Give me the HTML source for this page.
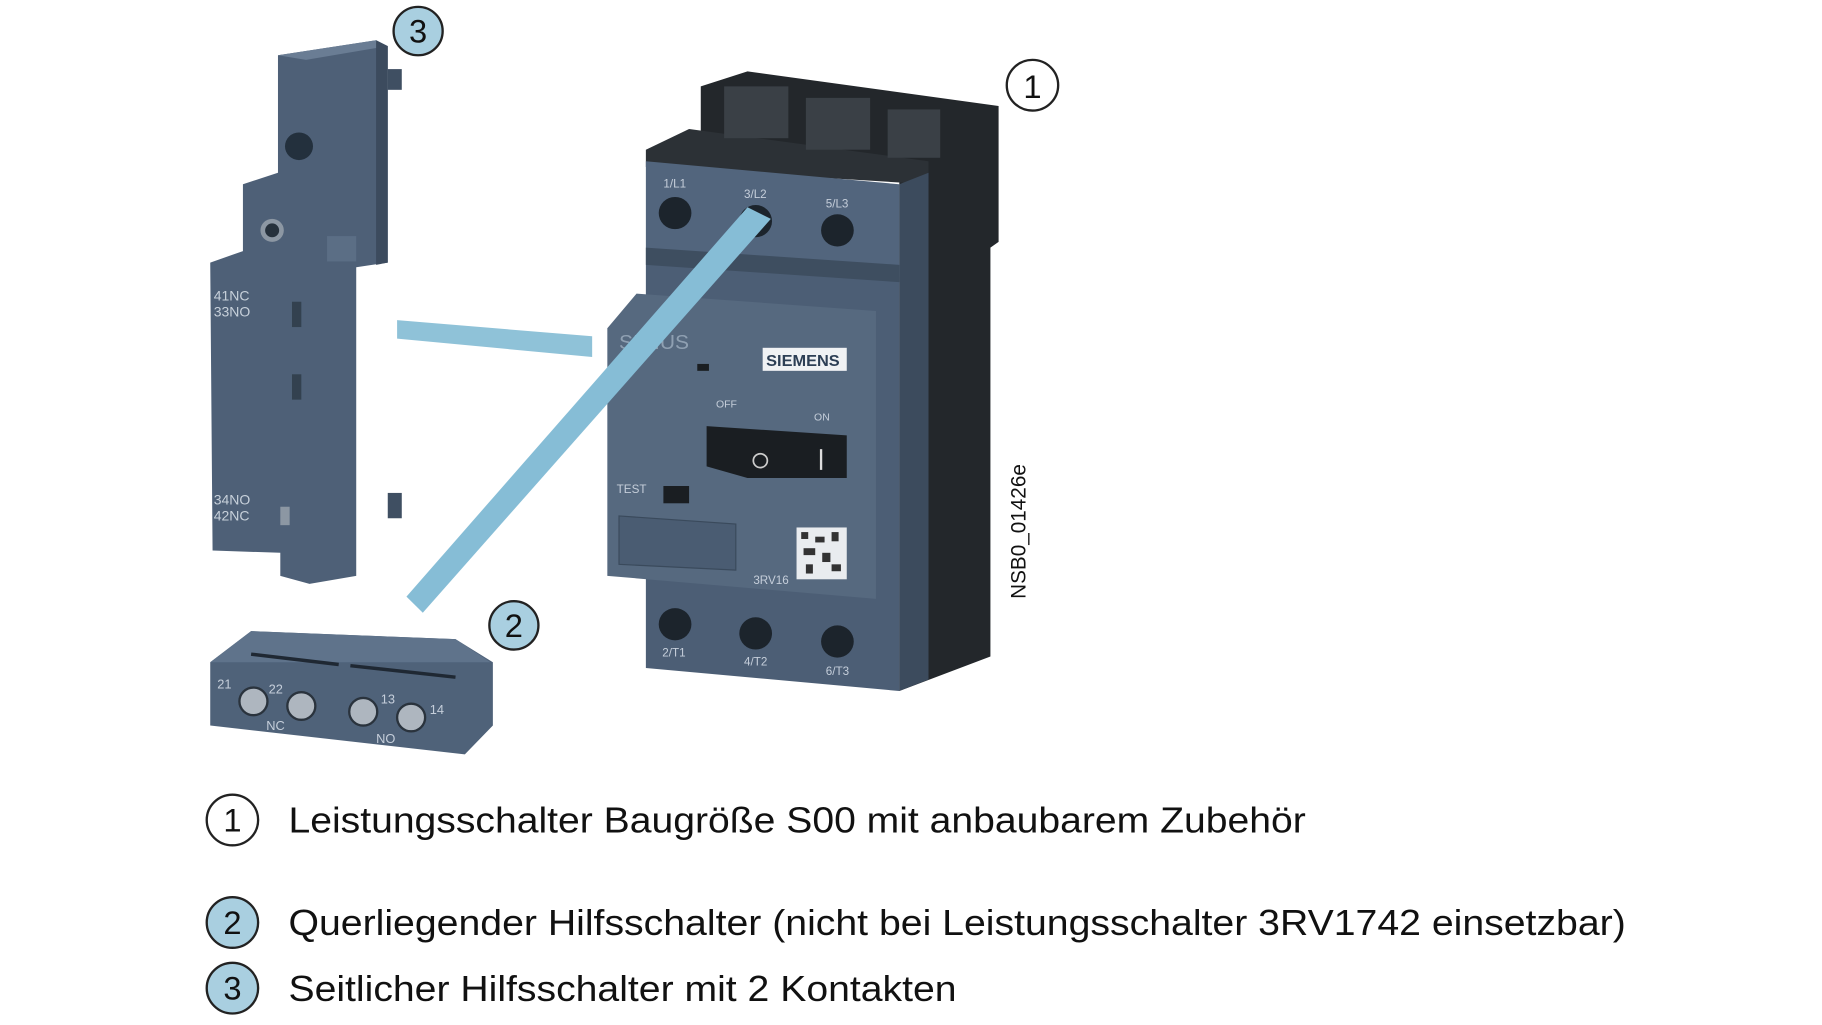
<!DOCTYPE html>
<html><head><meta charset="utf-8"><style>
html,body{margin:0;padding:0;background:#fff;}
svg{display:block;}
</style></head><body>
<svg width="1822" height="1025" viewBox="0 0 1560 890" preserveAspectRatio="none" xmlns="http://www.w3.org/2000/svg" font-family="Liberation Sans, sans-serif">
<!-- Side aux switch (3) -->
<g>
<polygon points="238,48 322,35 332,40 332,228 305,232 305,500 265,507 240,500 240,480 182,478 180,228 208,218 208,160 238,150" fill="#4e6077"/>
<polygon points="238,48 322,35 332,40 262,52" fill="#6a7d94"/>
<polygon points="322,35 332,40 332,228 322,230" fill="#3c4b5e"/>
<rect x="332" y="60" width="12" height="18" fill="#3f4f62"/>
<rect x="332" y="428" width="12" height="22" fill="#3f4f62"/>
<rect x="280" y="205" width="25" height="22" fill="#5b6e85"/>
<circle cx="256" cy="127" r="12" fill="#23303d"/>
<circle cx="233" cy="200" r="10" fill="#8c97a3"/>
<circle cx="233" cy="200" r="6" fill="#26313c"/>
<rect x="240" y="440" width="8" height="16" fill="#8c97a3"/>
<rect x="250" y="262" width="8" height="22" fill="#33414f"/>
<rect x="250" y="325" width="8" height="22" fill="#33414f"/>
<g fill="#c7d0da" font-size="12"><text x="183" y="261">41NC</text><text x="183" y="275">33NO</text><text x="183" y="438">34NO</text><text x="183" y="452">42NC</text></g>
</g>
<!-- light blue horizontal bar -->
<polygon points="340,278 507,292 507,310 340,294" fill="#8fc2d8"/>
<!-- Main breaker back -->
<polygon points="600,75 640,62 855,92 855,210 848,215 848,570 770,600 770,140 600,120" fill="#23272b"/>
<polygon points="553,130 590,112 795,140 795,160 553,145" fill="#2c3136"/>
<g fill="#3a4046"><rect x="620" y="75" width="55" height="45"/><rect x="690" y="85" width="55" height="45"/><rect x="760" y="95" width="45" height="42"/></g>
<!-- front blue -->
<polygon points="553,140 770,160 770,240 553,225" fill="#52657d"/>
<polygon points="553,225 770,240 770,600 553,580" fill="#4c5e75"/>
<polygon points="520,285 545,255 750,270 750,520 520,500" fill="#56697f"/>
<polygon points="770,160 795,150 795,590 770,600" fill="#3c4b5d"/>
<g fill="#1c242c"><circle cx="578" cy="185" r="14"/><circle cx="647" cy="192" r="14"/><circle cx="717" cy="200" r="14"/><circle cx="578" cy="542" r="14"/><circle cx="647" cy="550" r="14"/><circle cx="717" cy="557" r="14"/></g>
<polygon points="553,215 770,230 770,245 553,230" fill="#3e4e60"/>
<g fill="#c5ceda" font-size="10"><text x="568" y="163">1/L1</text><text x="637" y="172">3/L2</text><text x="707" y="180">5/L3</text><text x="567" y="570">2/T1</text><text x="637" y="578">4/T2</text><text x="707" y="586">6/T3</text><text x="645" y="507">3RV16</text><text x="528" y="428">TEST</text><text x="613" y="354" font-size="9">OFF</text><text x="697" y="365" font-size="9">ON</text></g>
<text x="530" y="303" fill="#8fa0b2" font-size="18">SIRIUS</text>
<rect x="653" y="302" width="72" height="20" fill="#f0f2f4"/>
<text x="656" y="318" fill="#2d3f55" font-size="14" font-weight="bold">SIEMENS</text>
<polygon points="605,370 725,378 725,415 640,415 605,405" fill="#1a1e22"/>
<circle cx="651" cy="400" r="6" fill="none" stroke="#ccc" stroke-width="1.5"/>
<rect x="702" y="390" width="2" height="18" fill="#ddd"/>
<rect x="568" y="422" width="22" height="15" fill="#1a1e22"/>
<rect x="597" y="316" width="10" height="6" fill="#1a1e22"/>
<polygon points="530,448 630,455 630,495 530,490" fill="#4a5c72" stroke="#3a4a5c"/>
<rect x="682" y="458" width="43" height="45" fill="#e9ecef"/>
<g fill="#333"><rect x="686" y="462" width="6" height="6"/><rect x="698" y="466" width="8" height="5"/><rect x="712" y="462" width="6" height="8"/><rect x="688" y="476" width="10" height="6"/><rect x="704" y="480" width="7" height="8"/><rect x="690" y="490" width="6" height="8"/><rect x="712" y="490" width="8" height="6"/></g>
<!-- diagonal bar over breaker -->
<polygon points="348,518 640,180 660,190 362,532" fill="#86bdd6"/>
<!-- bottom aux switch (2) -->
<polygon points="180,575 215,548 390,555 422,575 422,630 398,655 180,630" fill="#4f6279"/>
<polygon points="180,575 215,548 390,555 420,575" fill="#5f738b"/>
<g stroke="#1f2833" stroke-width="3"><line x1="215" y1="568" x2="290" y2="577"/><line x1="300" y1="578" x2="390" y2="588"/></g>
<g fill="#aeb6bf" stroke="#2a333d" stroke-width="2"><circle cx="217" cy="609" r="12"/><circle cx="258" cy="613" r="12"/><circle cx="311" cy="618" r="12"/><circle cx="352" cy="623" r="12"/></g>
<g fill="#c5ceda" font-size="11"><text x="186" y="598">21</text><text x="230" y="602">22</text><text x="326" y="611">13</text><text x="368" y="620">14</text><text x="228" y="634">NC</text><text x="322" y="645">NO</text></g>
<!-- callouts -->
<g stroke="#222" stroke-width="2">
<circle cx="358" cy="27" r="21" fill="#a9cfe0"/>
<circle cx="884" cy="74" r="22" fill="#fff"/>
<circle cx="440" cy="543" r="21" fill="#a9cfe0"/>
<circle cx="199" cy="712" r="22" fill="#fff"/>
<circle cx="199" cy="801" r="22" fill="#a9cfe0"/>
<circle cx="199" cy="858" r="22" fill="#a9cfe0"/>
</g>
<g font-size="28" fill="#111" text-anchor="middle">
<text x="358" y="37">3</text><text x="884" y="85">1</text><text x="440" y="553">2</text>
<text x="199" y="722">1</text><text x="199" y="811">2</text><text x="199" y="868">3</text>
</g>
<text transform="translate(878,520) rotate(-90)" font-size="18" fill="#111">NSB0_01426e</text>
<g font-size="31" fill="#111">
<text x="247" y="723" textLength="871" lengthAdjust="spacingAndGlyphs">Leistungsschalter Baugröße S00 mit anbaubarem Zubehör</text>
<text x="247" y="812" textLength="1145" lengthAdjust="spacingAndGlyphs">Querliegender Hilfsschalter (nicht bei Leistungsschalter 3RV1742 einsetzbar)</text>
<text x="247" y="869" textLength="572" lengthAdjust="spacingAndGlyphs">Seitlicher Hilfsschalter mit 2 Kontakten</text>
</g>
</svg>
</body></html>
